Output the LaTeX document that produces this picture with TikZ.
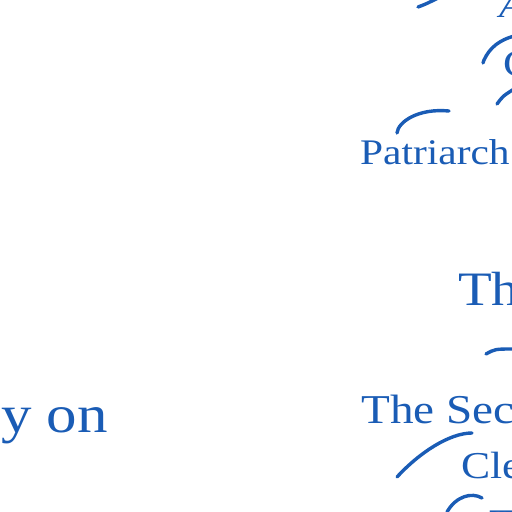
\documentclass[tikz,border=0pt]{standalone}
\usepackage{fontspec}
\setmainfont[FakeStretch=1.15]{Liberation Serif}
\usepackage{xcolor}
\definecolor{mapblue}{HTML}{1A5CB5}
\usepackage{tikz}
\usetikzlibrary{positioning, calc}

\begin{document}
\begin{tikzpicture}[
  x=1pt, y=-1pt,
  lbl/.style={text=mapblue, inner sep=0pt, anchor=base west},
  branch/.style={draw=mapblue, line width=3.4pt, line cap=round}
]
  \useasboundingbox (0,0) rectangle (512,512);
  \clip (0,0) rectangle (512,512);

  % labels
  \node[lbl] (atop) at (499,17) {\fontsize{36}{40}\selectfont\itshape A};
  \node[lbl] (cnode) at (503,76) {\fontsize{38}{42}\selectfont C};
  \node[lbl] (patri) at (360,164) {\fontsize{36}{40}\selectfont Patriarch};
  \node[lbl] (bigth) at (458,305) {\fontsize{48}{52}\selectfont Th};
  \node[lbl] (second) at (361,423) {\fontsize{41}{46}\selectfont The Sec};
  \node[lbl] (cle) at (461,478) {\fontsize{38}{42}\selectfont Cle};
  \node[lbl, anchor=base east] (yon) at (108,432) {\fontsize{53}{58}\selectfont y on};
  \node[lbl] (lowth) at (489,534) {\fontsize{36}{40}\selectfont Th};

  % branch ends
  \coordinate (p1) at (418,7);   \coordinate (q1) at (440,-3);
  \coordinate (p2) at (483,63);  \coordinate (q2) at (514,36);
  \coordinate (p3) at (497,104); \coordinate (q3) at (514,89);
  \coordinate (p4) at (397,133); \coordinate (q4) at (449,111);
  \coordinate (p5) at (486,354); \coordinate (q5) at (514,349);
  \coordinate (p6) at (397,477); \coordinate (q6) at (472,433);
  \coordinate (p7) at (447,512); \coordinate (q7) at (482,498);

  % branches
  \draw[branch] (p1) .. controls (426,4) .. (q1);
  \draw[branch] (p2) -- ++(1,-3) .. controls (490,47) and (500,40) .. (q2);
  \draw[branch] (p3) .. controls (503,96) .. (q3);
  \draw[branch] (p4) .. controls (398,122) and (418,108) .. (q4);
  \draw[branch] (p5) .. controls (495,349) .. (q5);
  \draw[branch] (p6) .. controls (420,452) and (450,433) .. (q6);
  \draw[branch] (p7) .. controls (456,496) and (472,492) .. (q7);
\end{tikzpicture}
\end{document}
